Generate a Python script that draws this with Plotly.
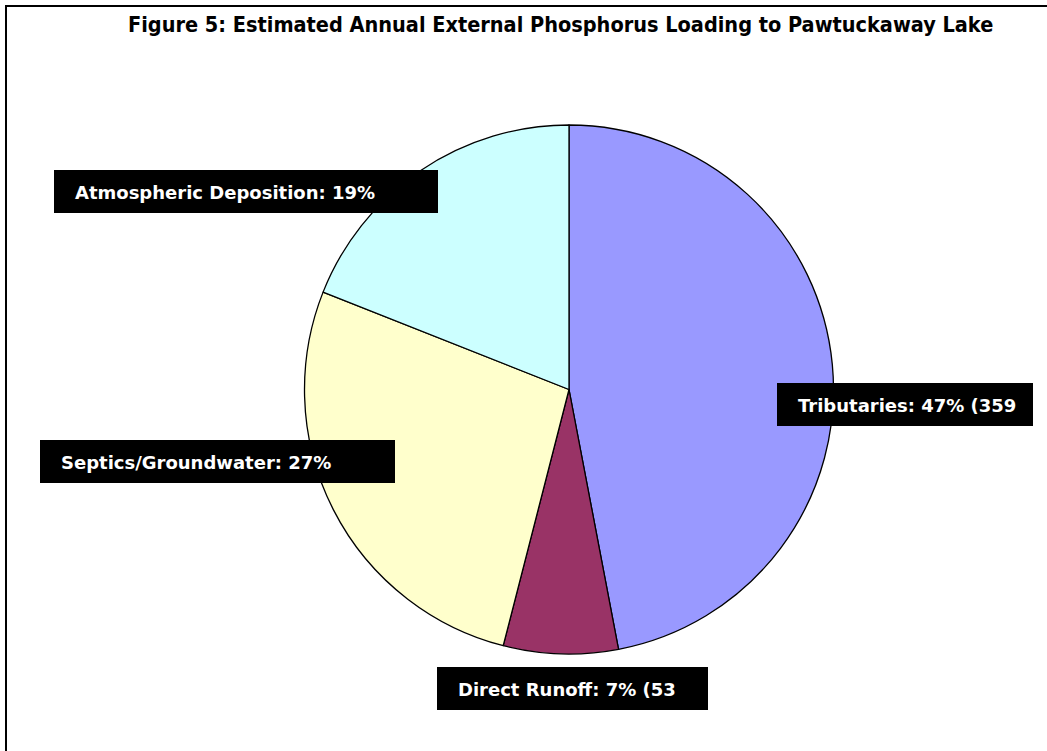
import plotly.graph_objects as go

W, H = 1047, 751

# Data
categories = ["Tributaries", "Direct Runoff", "Septics/Groundwater", "Atmospheric Deposition"]
percents = [47, 7, 27, 19]
label_texts = ["Tributaries: 47% (359", "Direct Runoff: 7% (53",
               "Septics/Groundwater: 27%", "Atmospheric Deposition: 19%"]
colors = ["#9999FF", "#993366", "#FFFFCC", "#CCFFFF"]
title_text = "Figure 5: Estimated Annual External Phosphorus Loading to Pawtuckaway Lake"

# label box geometry in pixels (x0, y0, x1, y1) from the top-left
label_boxes = [(777, 383, 1033, 426), (437, 667, 708, 710),
               (40, 440, 395, 483), (54, 170, 438, 213)]

def px(x):
    return x / W

def py(y):
    return 1 - y / H

cx, cy, r = 569, 389.5, 264.5

fig = go.Figure(go.Pie(
    labels=categories, values=percents, sort=False, direction="clockwise",
    rotation=0, textinfo="none", hoverinfo="label+percent",
    marker=dict(colors=colors, line=dict(color="black", width=1.3)),
    domain=dict(x=[px(cx - r), px(cx + r)], y=[py(cy + r), py(cy - r)]),
    showlegend=False,
))

shapes = []
annotations = []
for (x0, y0, x1, y1), txt in zip(label_boxes, label_texts):
    shapes.append(dict(type="rect", xref="paper", yref="paper",
                       x0=px(x0), x1=px(x1), y0=py(y1), y1=py(y0),
                       fillcolor="black", line=dict(width=0), layer="above"))
    annotations.append(dict(xref="paper", yref="paper", x=px(x0 + 19),
                            y=py((y0 + y1) / 2 + 1), xanchor="left", yanchor="middle",
                            text=txt, showarrow=False,
                            font=dict(family="DejaVu Sans", size=18, color="white", weight="bold")))

# outer frame
shapes.append(dict(type="rect", xref="paper", yref="paper",
                   x0=px(6), x1=1.02, y0=-0.02, y1=py(6),
                   line=dict(color="black", width=2), fillcolor="rgba(0,0,0,0)"))

annotations.append(dict(xref="paper", yref="paper", x=px(560), y=py(25),
                        xanchor="center", yanchor="middle", showarrow=False,
                        text="<b>" + title_text + "</b>",
                        font=dict(family="DejaVu Sans Condensed", size=21.5, color="black")))

fig.update_layout(width=W, height=H, margin=dict(l=0, r=0, t=0, b=0),
                  paper_bgcolor="white", plot_bgcolor="white",
                  shapes=shapes, annotations=annotations)

fig.write_html("out.html", config={"displayModeBar": False},
               post_script="document.body.style.margin='0';document.body.style.overflow='hidden';")
